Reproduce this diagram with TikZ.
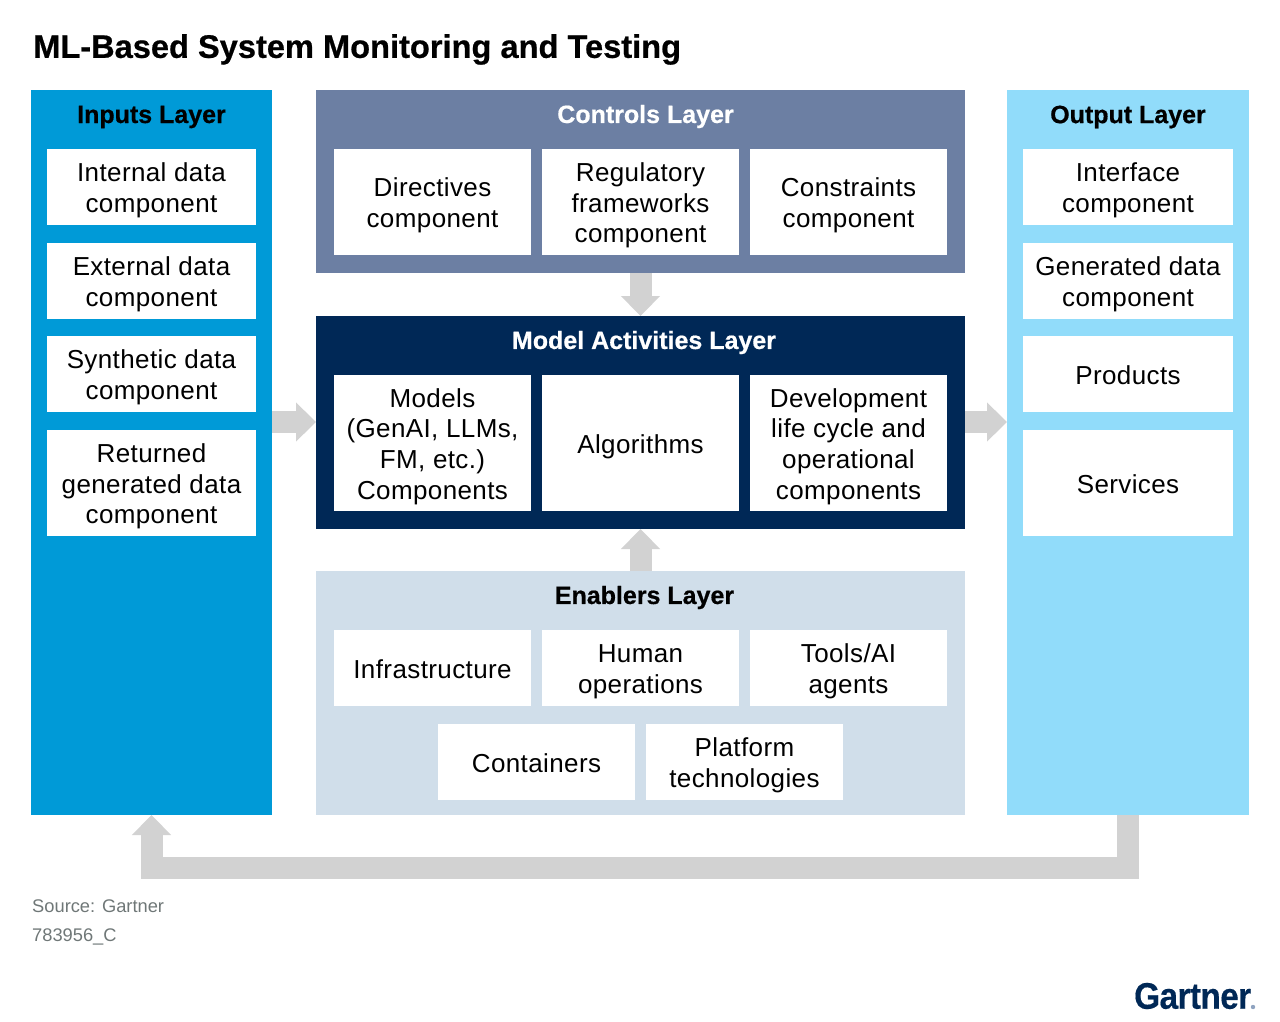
\documentclass[tikz,border=0pt]{standalone}
\usepackage{fontspec}
\setmainfont{Liberation Sans}
\newfontfamily\compfont[LetterSpace=1.5]{Liberation Sans}
\newfontfamily\headfont[FakeBold=0.6,BoldFont={Liberation Sans Bold}]{Liberation Sans Bold}
\newfontfamily\logofont[FakeStretch=0.9,LetterSpace=-1.5,FakeBold=0.4]{Liberation Sans Bold}
\usetikzlibrary{arrows.meta}
\definecolor{inC}{HTML}{009AD7}
\definecolor{ctlC}{HTML}{6C7FA3}
\definecolor{modC}{HTML}{002856}
\definecolor{enC}{HTML}{D0DEEA}
\definecolor{outC}{HTML}{91DCFA}
\definecolor{arrC}{HTML}{D2D2D2}
\definecolor{srcC}{HTML}{6F7777}
\definecolor{dotC}{HTML}{8FA3C0}
\tikzset{
  boxbase/.style={inner sep=0pt,outer sep=0pt,draw=none,align=center},
  compbox/.style={boxbase,fill=white},
  comptext/.style={inner sep=0pt,align=center,text=black,yshift=-3.5pt,font=\compfont\fontsize{26}{30.6}\selectfont},
  layertitle/.style={inner sep=0pt,font=\headfont\fontsize{25}{30}\selectfont},
  flow/.style={draw=arrC,line width=22pt,-{Triangle[width=38pt,length=20pt]}},
  srcnote/.style={inner sep=0pt,anchor=west,text=srcC,font=\fontsize{18.3}{22}\selectfont}
}
\newcommand{\bx}[8][]{\node[#2,minimum width={(#5-#3)*1pt},minimum height={(#6-#4)*1pt},#1] (#7) at ({(#3+#5)/2},{(#4+#6)/2}) {};
\node[comptext] (#7-text) at (#7.center) {#8};}
\begin{document}
\begin{tikzpicture}[x=1pt,y=-1pt]
\useasboundingbox (0,0) rectangle (1280,1022);
\node[inner sep=0pt,anchor=west,font=\headfont\fontsize{32.6}{36}\selectfont] (title) at (33,49.5) {ML-Based System Monitoring and Testing};
% layers
\node[boxbase,fill=inC,minimum width=241pt,minimum height=725pt] (inputs) at (151.5,452.5) {};
\node[boxbase,fill=ctlC,minimum width=649pt,minimum height=183pt] (controls) at (640.5,181.5) {};
\node[boxbase,fill=modC,minimum width=649pt,minimum height=213pt] (model) at (640.5,422.5) {};
\node[boxbase,fill=enC,minimum width=649pt,minimum height=244pt] (enablers) at (640.5,693) {};
\node[boxbase,fill=outC,minimum width=242pt,minimum height=725pt] (output) at (1128,452.5) {};
% layer titles
\node[layertitle,text=black] (tin) at (151.5,117) {Inputs Layer};
\node[layertitle,text=white] (tctl) at (645.5,116.5) {Controls Layer};
\node[layertitle,text=white] (tmod) at (644,342.5) {Model Activities Layer};
\node[layertitle,text=black] (ten) at (644.5,597.5) {Enablers Layer};
\node[layertitle,text=black] (tout) at (1128,117) {Output Layer};
% inputs
\bx{compbox}{47}{149}{256}{225}{i1}{Internal data\\component}
\bx{compbox}{47}{243}{256}{319}{i2}{External data\\component}
\bx{compbox}{47}{336}{256}{412}{i3}{Synthetic data\\component}
\bx{compbox}{47}{430}{256}{536}{i4}{Returned\\generated data\\component}
% controls
\bx{compbox}{334}{149}{531}{255}{c1}{Directives\\component}
\bx{compbox}{542}{149}{739}{255}{c2}{Regulatory\\frameworks\\component}
\bx{compbox}{750}{149}{947}{255}{c3}{Constraints\\component}
% model
\bx{compbox}{334}{375}{531}{511}{m1}{Models\\(GenAI, LLMs,\\FM, etc.)\\Components}
\bx{compbox}{542}{375}{739}{511}{m2}{Algorithms}
\bx{compbox}{750}{375}{947}{511}{m3}{Development\\life cycle and\\operational\\components}
% enablers
\bx{compbox}{334}{630}{531}{706}{e1}{Infrastructure\vphantom{p}}
\bx{compbox}{542}{630}{739}{706}{e2}{Human\\operations}
\bx{compbox}{750}{630}{947}{706}{e3}{Tools/AI\\agents}
\bx{compbox}{438}{724}{635}{800}{e4}{Containers\vphantom{p}}
\bx{compbox}{646}{724}{843}{800}{e5}{Platform\\technologies}
% output
\bx{compbox}{1023}{149}{1233}{225}{o1}{Interface\\component}
\bx{compbox}{1023}{243}{1233}{319}{o2}{Generated data\\component}
\bx{compbox}{1023}{336}{1233}{412}{o3}{Products\vphantom{p}}
\bx{compbox}{1023}{430}{1233}{536}{o4}{Services\vphantom{p}}
% connectors
\coordinate (ctlout) at (c2.center |- controls.south);
\coordinate (modin) at (c2.center |- model.north);
\coordinate (modout) at (c2.center |- model.south);
\coordinate (enout) at (c2.center |- enablers.north);
\draw[flow] (ctlout) -- (modin);
\draw[flow] (enout) -- (modout);
\coordinate (inout) at (inputs.east |- 0,422);
\coordinate (modleft) at (model.west |- 0,422);
\coordinate (modright) at (model.east |- 0,422);
\coordinate (outin) at (output.west |- 0,422);
\draw[flow] (inout) -- (modleft);
\draw[flow] (modright) -- (outin);
\draw[flow] (output.south) -- ++(0,53) -| (inputs.south);
% notes
\node[srcnote] (src) at (32,906) {Source: Gartner};
\node[srcnote] (code) at (32,936.5) {783956\_C};
\node[inner sep=0pt,anchor=west,text=modC,font=\logofont\fontsize{37}{40}\selectfont] (logo) at (1134,996) {Gartner};
\fill[dotC] (1253,1007) circle (2.2pt);
\end{tikzpicture}
\end{document}
